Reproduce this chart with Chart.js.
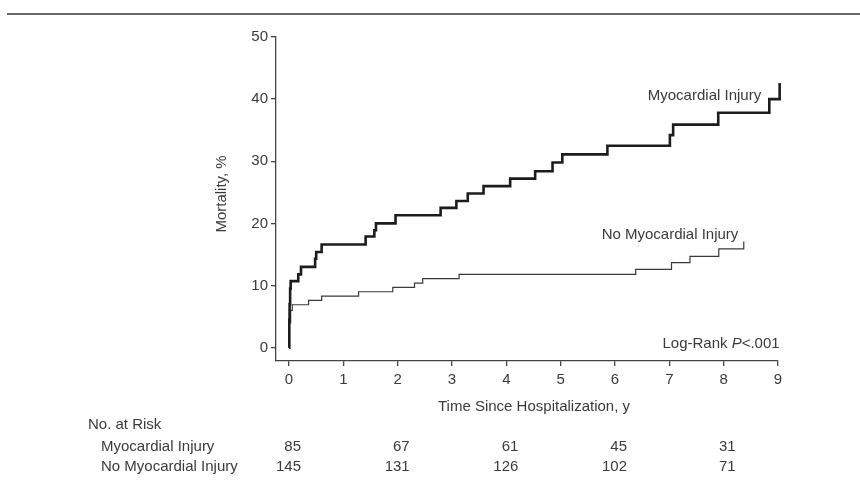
<!DOCTYPE html>
<html><head><meta charset="utf-8">
<script src="https://cdn.jsdelivr.net/npm/chart.js@4.4.0/dist/chart.umd.min.js"></script>
<style>html,body{margin:0;padding:0;background:#fff;overflow:hidden}#wrap{width:860px;height:485px;position:relative}</style>
</head><body><div id="wrap"><canvas id="c" width="860" height="485"></canvas></div>
<script>
// ---- Data ----
const seriesNames = ['Myocardial Injury', 'No Myocardial Injury'];
const miTimes  = [0, 0.005, 0.01, 0.02, 0.03, 0.17, 0.22, 0.48, 0.50, 0.60, 1.41, 1.57, 1.60, 1.96, 2.79, 3.08, 3.29, 3.58, 4.07, 4.53, 4.85, 5.03, 5.86, 7.01, 7.07, 7.90, 8.84, 9.03];
const miValues = [0, 4.5, 7.0, 9.5, 10.7, 11.8, 13.0, 14.3, 15.4, 16.6, 17.9, 18.9, 20.0, 21.3, 22.5, 23.6, 24.8, 26.0, 27.2, 28.4, 29.8, 31.1, 32.5, 34.2, 35.9, 37.8, 40.0, 42.6];
const noMiTimes  = [0, 0.005, 0.03, 0.06, 0.36, 0.60, 1.28, 1.91, 2.31, 2.46, 3.13, 6.38, 7.04, 7.38, 7.91, 8.37];
const noMiValues = [0, 4.0, 6.0, 6.9, 7.6, 8.3, 9.0, 9.7, 10.4, 11.1, 11.8, 12.6, 13.7, 14.7, 15.9, 17.1];
const xTickValues = [0, 1, 2, 3, 4, 5, 6, 7, 8, 9];
const yTickValues = [0, 10, 20, 30, 40, 50];
const riskTimes = [0, 2, 4, 6, 8];
const riskMI   = [85, 67, 61, 45, 31];
const riskNoMI = [145, 131, 126, 102, 71];
const xTitle = 'Time Since Hospitalization, y';
const yTitle = 'Mortality, %';
const riskHeader = 'No. at Risk';

const FONT = '"Liberation Sans", Arial, Helvetica, sans-serif';
const TXT = '#3a3a3a';

const toPts = (t, v) => t.map((x, i) => ({x: x, y: v[i]}));

const annot = {
  id: 'annot',
  beforeDraw(chart) {
    const ctx = chart.ctx;
    ctx.save();
    ctx.fillStyle = '#fff';
    ctx.fillRect(0, 0, chart.width, chart.height);
    ctx.strokeStyle = '#6a6a6a';
    ctx.lineWidth = 2;
    ctx.beginPath();
    ctx.moveTo(7, 14); ctx.lineTo(860, 14);
    ctx.stroke();
    ctx.restore();
  },
  afterDraw(chart) {
    const ctx = chart.ctx, xs = chart.scales.x, ys = chart.scales.y;
    ctx.save();
    ctx.fillStyle = TXT;
    ctx.textBaseline = 'middle';
    ctx.font = '15px ' + FONT;
    // curve labels
    ctx.textAlign = 'right';
    ctx.fillText(seriesNames[0], xs.getPixelForValue(8.69), ys.getPixelForValue(40.5));
    ctx.fillText(seriesNames[1], xs.getPixelForValue(8.27), ys.getPixelForValue(18.1));
    // log-rank
    const parts = [['Log-Rank ', false], ['P', true], ['<.001', false]];
    let total = 0;
    parts.forEach(p => { ctx.font = (p[1] ? 'italic ' : '') + '15px ' + FONT; total += ctx.measureText(p[0]).width; });
    let px = xs.getPixelForValue(9.03) - total;
    const py = ys.getPixelForValue(0.65);
    ctx.textAlign = 'left';
    parts.forEach(p => { ctx.font = (p[1] ? 'italic ' : '') + '15px ' + FONT; ctx.fillText(p[0], px, py); px += ctx.measureText(p[0]).width; });
    ctx.font = '15px ' + FONT;
    // x title
    ctx.textAlign = 'center';
    ctx.fillText(xTitle, 534, 407);
    // y title
    ctx.save();
    ctx.translate(222, 194);
    ctx.rotate(-Math.PI / 2);
    ctx.fillText(yTitle, 0, 0);
    ctx.restore();
    // risk table
    ctx.textAlign = 'left';
    ctx.fillText(riskHeader, 88, 425);
    ctx.fillText(seriesNames[0], 101, 446.5);
    ctx.fillText(seriesNames[1], 101, 466.5);
    ctx.textAlign = 'right';
    riskTimes.forEach((t, i) => {
      const xp = xs.getPixelForValue(t) + 12;
      ctx.fillText(String(riskMI[i]), xp, 446.5);
      ctx.fillText(String(riskNoMI[i]), xp, 466.5);
    });
    ctx.restore();
  }
};

const axisCommon = {
  type: 'linear',
  border: {display: true, color: '#444', width: 1.3},
  grid: {display: true, drawOnChartArea: false, drawTicks: true, tickLength: 5, color: '#444', lineWidth: 1.3},
  ticks: {color: TXT, font: {family: FONT, size: 15}, padding: 3}
};

new Chart(document.getElementById('c'), {
  type: 'line',
  data: {
    datasets: [
      {label: seriesNames[0], data: toPts(miTimes, miValues), stepped: 'before', borderColor: '#1c1c1c', borderWidth: 2.6, pointRadius: 0, fill: false, clip: false},
      {label: seriesNames[1], data: toPts(noMiTimes, noMiValues), stepped: 'before', borderColor: '#3a3a3a', borderWidth: 1.2, pointRadius: 0, fill: false, clip: false}
    ]
  },
  options: {
    responsive: false,
    animation: false,
    devicePixelRatio: 1,
    layout: {padding: {left: 0, right: 82, top: 37, bottom: 0}},
    plugins: {legend: {display: false}, tooltip: {enabled: false}},
    scales: {
      x: Object.assign({}, axisCommon, {
        min: -0.24, max: 9,
        ticks: {color: TXT, font: {family: FONT, size: 15}, padding: 5},
        afterBuildTicks: s => { s.ticks = xTickValues.map(v => ({value: v})); },
        afterFit: s => { s.height = 124; }
      }),
      y: Object.assign({}, axisCommon, {
        min: -2.15, max: 50,
        afterBuildTicks: s => { s.ticks = yTickValues.map(v => ({value: v})); },
        afterFit: s => { s.width = 276; }
      })
    }
  },
  plugins: [annot]
});
</script></body></html>
